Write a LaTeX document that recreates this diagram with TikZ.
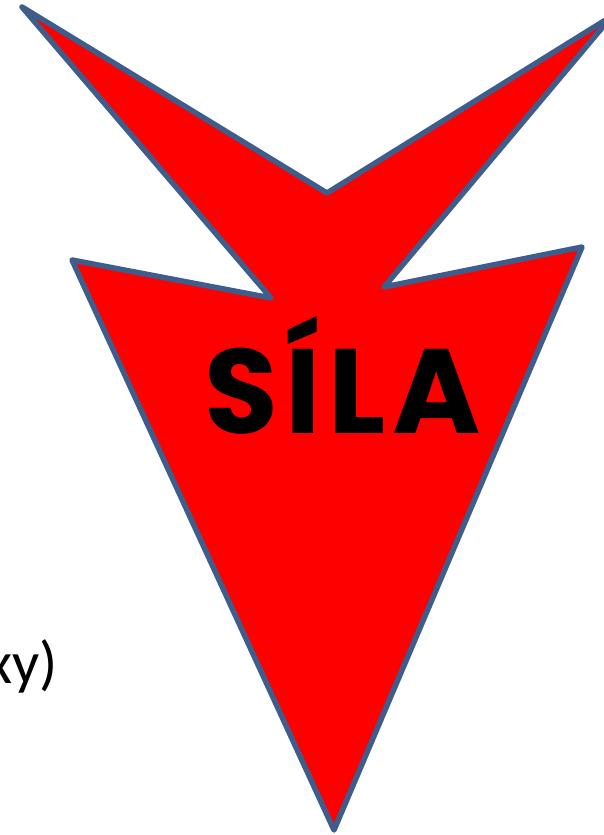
\documentclass[tikz,border=0pt]{standalone}
\usepackage{fontspec}
\setmainfont{Carlito}
\newfontfamily\silafont{Poppins}
\definecolor{arrowred}{RGB}{255,0,0}
\definecolor{edgeblue}{RGB}{62,93,138}
\begin{document}
\begin{tikzpicture}[x=1pt,y=-1pt,
  bigarrow/.style={fill=arrowred,draw=edgeblue,line width=5.5pt,line join=round},
  lbl/.style={inner sep=0pt,outer sep=0pt}]
\useasboundingbox (0,0) rectangle (604,835);
\clip (0,0) rectangle (604,835);
\coordinate (tl) at (22,7);
\coordinate (nt) at (327,193);
\coordinate (tr) at (612,16);
\coordinate (nr) at (384,287);
\coordinate (ro) at (582,247);
\coordinate (bt) at (334,830);
\coordinate (lo) at (72,260);
\coordinate (nl) at (271,298);
\draw[bigarrow] (tl) -- (nt) -- (tr) -- (nr) -- (ro) -- (bt) -- (lo) -- (nl) -- cycle;
\node[lbl,anchor=base] (sila) at (343,433) {\silafont\bfseries\addfontfeatures{LetterSpace=6}\fontsize{120}{126}\selectfont SÍLA};
\node[lbl,anchor=base east] (xy) at (58,683) {\fontsize{60}{66}\selectfont xy)};
\end{tikzpicture}
\end{document}
